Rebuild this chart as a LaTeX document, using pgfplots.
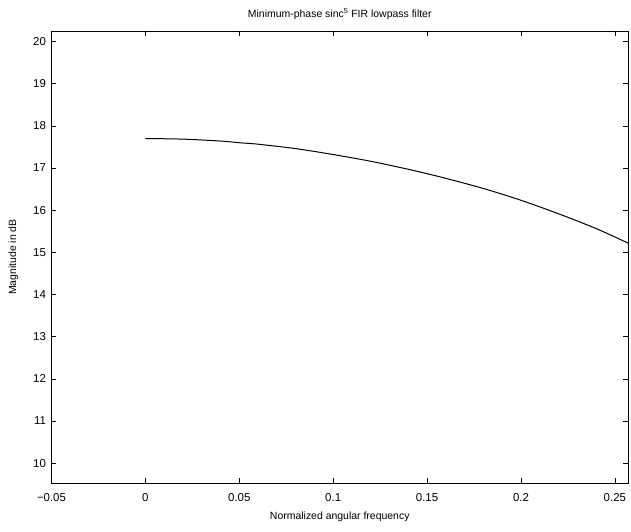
\documentclass[border=0pt]{standalone}
\usepackage{fontspec}
\setmainfont{Liberation Sans}
\usepackage{pgfplots}
\pgfplotsset{compat=1.18}
\begin{document}
\begin{tikzpicture}[x=1bp,y=1bp]
\path[use as bounding box] (-51.5,-49) rectangle (579.5,483);
\begin{axis}[
  at={(0,0)}, anchor=south west,
  scale only axis,
  width=576.5bp, height=452bp,
  xmin=-0.05, xmax=0.257,
  ymin=9.53, ymax=20.25,
  xtick={-0.05,0,0.05,0.1,0.15,0.2,0.25},
  xticklabels={−0.05,0,0.05,0.1,0.15,0.2,0.25},
  ytick={10,11,12,13,14,15,16,17,18,19,20},
  /pgf/number format/assume math mode=true,
  tick align=inside,
  major tick length=5bp,
  tick style={black, line width=0.6pt},
  axis line style={black, line width=0.8pt},
  ticklabel style={font=\fontsize{11.5}{13}\selectfont},
  xticklabel style={yshift=-7bp},
  yticklabel style={xshift=-2bp},
  title={Minimum-phase sinc\textsuperscript{5} FIR lowpass filter},
  title style={font=\fontsize{10.5}{12}\selectfont, yshift=2bp},
  xlabel={Normalized angular frequency},
  ylabel={Magnitude in dB},
  label style={font=\fontsize{10.5}{12}\selectfont},
  xlabel style={yshift=-3bp},
  ylabel style={yshift=8bp},
  clip=true,
]
\addplot[black, line width=1pt, smooth] coordinates {
(0,17.70) (0.02,17.685) (0.04,17.64) (0.05,17.60) (0.06,17.565)
(0.08,17.46) (0.10,17.32) (0.12,17.16) (0.14,16.97) (0.15,16.865)
(0.16,16.755) (0.18,16.515) (0.20,16.235) (0.22,15.915) (0.24,15.565)
(0.257,15.22)
};
\end{axis}
\end{tikzpicture}
\end{document}
